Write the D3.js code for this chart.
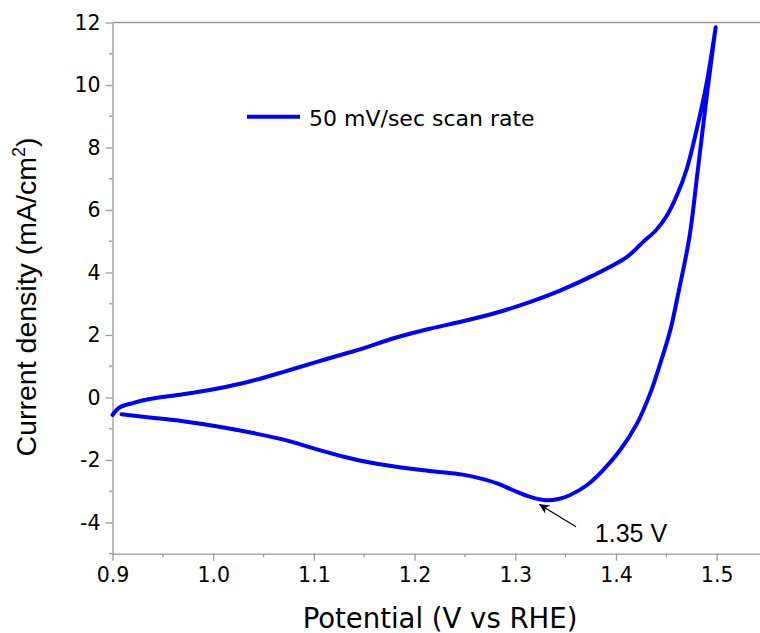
<!DOCTYPE html>
<html>
<head>
<meta charset="utf-8">
<script src="https://cdn.jsdelivr.net/npm/d3@7"></script>
<style>
  html, body { margin: 0; padding: 0; background: #fff; }
  svg { display: block; }
</style>
</head>
<body>
<svg id="chart" width="760" height="633"></svg>
<script>
// Forward (anodic) sweep
const fwdV = [0.900, 0.907, 0.920, 0.937, 0.970, 1.003, 1.037, 1.070, 1.103, 1.134, 1.149, 1.182, 1.215, 1.248, 1.282, 1.315, 1.345, 1.377, 1.411, 1.427, 1.440, 1.450, 1.460, 1.470, 1.480, 1.490, 1.499];
const fwdJ = [-0.56, -0.32, -0.18, -0.05, 0.10, 0.28, 0.52, 0.82, 1.14, 1.43, 1.57, 1.92, 2.20, 2.44, 2.72, 3.06, 3.43, 3.90, 4.50, 4.98, 5.36, 5.79, 6.43, 7.28, 8.55, 10.05, 11.85];
// Reverse (cathodic) sweep
const revV = [1.499, 1.490, 1.481, 1.473, 1.462, 1.454, 1.444, 1.434, 1.421, 1.404, 1.387, 1.371, 1.354, 1.344, 1.331, 1.315, 1.298, 1.282, 1.265, 1.248, 1.215, 1.182, 1.149, 1.134, 1.103, 1.070, 1.037, 1.003, 0.970, 0.937, 0.909];
const revJ = [11.85, 9.60, 7.20, 5.14, 3.35, 2.16, 1.09, 0.13, -0.83, -1.69, -2.33, -2.81, -3.13, -3.24, -3.29, -3.18, -2.97, -2.75, -2.59, -2.47, -2.35, -2.22, -2.04, -1.93, -1.66, -1.35, -1.12, -0.92, -0.76, -0.64, -0.54];

const xTicks = [0.9, 1.0, 1.1, 1.2, 1.3, 1.4, 1.5];
const xMinor = [0.95, 1.05, 1.15, 1.25, 1.35, 1.45, 1.55];
const yTicks = [-4, -2, 0, 2, 4, 6, 8, 10, 12];
const yMinor = [-5, -3, -1, 1, 3, 5, 7, 9, 11];

const legendLabel = "50 mV/sec scan rate";
const annotLabel = "1.35 V";
const annotTip = [1.3238, -3.42];
const annotTail = [1.3603, -4.14];
const annotText = [1.379, -4.64];

(function () {
const svg = d3.select("#chart");
const mL = 112.5, mR = 767, mT = 22.5, mB = 553.7;
const x = d3.scaleLinear().domain([0.9, 1.55]).range([mL, mR]);
const y = d3.scaleLinear().domain([-5, 12]).range([mB, mT]);

const axisColor = "#999";
const tickFont = "'DejaVu Sans', Verdana, sans-serif";

// top border
svg.append("line")
  .attr("x1", mL).attr("x2", 760).attr("y1", mT).attr("y2", mT)
  .attr("stroke", axisColor).attr("stroke-width", 1.3);

// X axis
const gx = svg.append("g").attr("transform", `translate(0,${mB})`)
  .call(d3.axisBottom(x).tickValues(xTicks).tickFormat(d3.format(".1f")).tickSize(7).tickSizeOuter(0));
gx.select(".domain").attr("stroke", axisColor).attr("stroke-width", 1.3);
gx.selectAll(".tick line").attr("stroke", axisColor).attr("stroke-width", 1.3);
gx.selectAll(".tick text").attr("y", 28.5).attr("dy", null)
  .attr("font-family", tickFont).attr("font-size", 20.5).attr("fill", "#000");
gx.selectAll(".minor").data(xMinor).enter().append("line")
  .attr("x1", d => x(d)).attr("x2", d => x(d)).attr("y1", 0).attr("y2", 3.5)
  .attr("stroke", axisColor).attr("stroke-width", 1.3);

// Y axis
const gy = svg.append("g").attr("transform", `translate(${mL},0)`)
  .call(d3.axisLeft(y).tickValues(yTicks).tickFormat(d => String(d)).tickSize(7).tickSizeOuter(0));
gy.select(".domain").attr("stroke", axisColor).attr("stroke-width", 1.3);
gy.selectAll(".tick line").attr("stroke", axisColor).attr("stroke-width", 1.3);
gy.selectAll(".tick text").attr("x", -12).attr("dy", "0.34em")
  .attr("font-family", tickFont).attr("font-size", 20.5).attr("fill", "#000");
gy.selectAll(".minor").data(yMinor).enter().append("line")
  .attr("x1", 0).attr("x2", -3.5).attr("y1", d => y(d)).attr("y2", d => y(d))
  .attr("stroke", axisColor).attr("stroke-width", 1.3);

// Axis titles
svg.append("text")
  .attr("x", 440).attr("y", 628)
  .attr("text-anchor", "middle")
  .attr("font-family", tickFont).attr("font-size", 27.5).attr("fill", "#000")
  .text("Potential (V vs RHE)");

const yt = svg.append("text")
  .attr("transform", "translate(36,297) rotate(-90)")
  .attr("text-anchor", "middle")
  .attr("font-family", "'Liberation Sans', Arial, sans-serif").attr("font-size", 28.5).attr("fill", "#000");
yt.append("tspan").text("Current density (mA/cm");
yt.append("tspan").attr("font-size", 18).attr("dy", -11).text("2");
yt.append("tspan").attr("dy", 11).text(")");

// Data curve
const pts = fwdV.map((v, i) => [v, fwdJ[i]]).concat(revV.map((v, i) => [v, revJ[i]]));
const line = d3.line().x(d => x(d[0])).y(d => y(d[1])).curve(d3.curveCatmullRom.alpha(0.5));
svg.append("path")
  .attr("d", line(pts))
  .attr("fill", "none").attr("stroke", "#0000ff").attr("stroke-width", 4)
  .attr("stroke-linejoin", "round").attr("stroke-linecap", "round");

// Legend
svg.append("line")
  .attr("x1", 247).attr("x2", 300).attr("y1", 116.7).attr("y2", 116.7)
  .attr("stroke", "#0000ff").attr("stroke-width", 4);
svg.append("text")
  .attr("x", 309).attr("y", 125.5)
  .attr("font-family", tickFont).attr("font-size", 22).attr("fill", "#000")
  .text(legendLabel);

// Annotation arrow
const defs = svg.append("defs");
defs.append("marker").attr("id", "arrow")
  .attr("viewBox", "0 0 10 10").attr("refX", 10).attr("refY", 5)
  .attr("markerWidth", 14).attr("markerHeight", 10).attr("markerUnits", "userSpaceOnUse")
  .attr("orient", "auto")
  .append("path").attr("d", "M0,0 L10,5 L0,10 L3,5 Z").attr("fill", "#000");
svg.append("line")
  .attr("x1", x(annotTail[0])).attr("y1", y(annotTail[1]))
  .attr("x2", x(annotTip[0])).attr("y2", y(annotTip[1]))
  .attr("stroke", "#000").attr("stroke-width", 1.2)
  .attr("marker-end", "url(#arrow)");
svg.append("text")
  .attr("x", x(annotText[0])).attr("y", y(annotText[1]))
  .attr("font-family", "'Liberation Sans', Arial, sans-serif").attr("font-size", 25).attr("fill", "#000")
  .text(annotLabel);
})();
</script>
</body>
</html>
